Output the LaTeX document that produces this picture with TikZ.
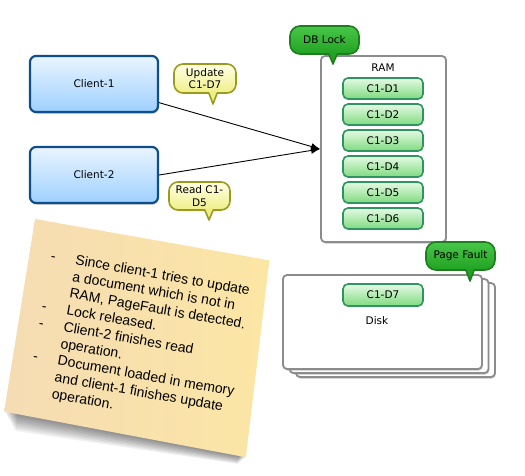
\documentclass[tikz,border=0pt]{standalone}
\usepackage{fontspec}
\setmainfont{DejaVu Sans}
\newfontfamily\notefont{Liberation Sans}
\usetikzlibrary{shadows,calc,arrows.meta}
\definecolor{clientborder}{HTML}{0E4E8A}
\definecolor{clienttop}{HTML}{EAF5FF}
\definecolor{clientbot}{HTML}{9ED0FF}
\definecolor{docborder}{HTML}{2F9462}
\definecolor{doctop}{HTML}{E6FAE4}
\definecolor{docbot}{HTML}{7FDA7F}
\definecolor{yborder}{HTML}{999A1E}
\definecolor{ytop}{HTML}{FFFFE6}
\definecolor{ybot}{HTML}{EFEF88}
\definecolor{gborder}{HTML}{1E7D1E}
\definecolor{gtop}{HTML}{48C648}
\definecolor{gbot}{HTML}{22A222}
\definecolor{boxgrey}{HTML}{8C8C8C}
\definecolor{notel}{HTML}{F5DCB4}
\definecolor{noter}{HTML}{FCE6A4}
\newcommand\dgfont{\fontsize{10.5}{12.5}\selectfont}
\newcommand\calltail[4]{%
  \fill[#3] ($(#2 |- #1.south)+(-4,-2.5)$) -- (#2) -- ($(#2 |- #1.south)+(4,-2.5)$) -- cycle;
  \draw[#4, line width=1.6pt, line join=round] ($(#2 |- #1.south)+(-4,-0.4)$) -- (#2) -- ($(#2 |- #1.south)+(4,-0.4)$);
}
\begin{document}
\begin{tikzpicture}[x=1pt,y=-1pt,
  client/.style={draw=clientborder, line width=2.2pt, rounded corners=6pt,
    top color=clienttop, bottom color=clientbot, minimum width=128pt,
    minimum height=56pt, inner sep=0pt, font=\dgfont,
    drop shadow={shadow xshift=0.8pt, shadow yshift=-1.8pt, opacity=0.35}},
  docnode/.style={draw=docborder, line width=1.6pt, rounded corners=5pt,
    top color=doctop, bottom color=docbot, minimum width=80pt,
    minimum height=21pt, inner sep=0pt, font=\dgfont},
  ybubble/.style={draw=yborder, line width=1.6pt, rounded corners=9pt,
    top color=ytop, bottom color=ybot, inner sep=0pt, align=center,
    font=\dgfont},
  gbubble/.style={draw=gborder, line width=1.6pt, rounded corners=10pt,
    top color=gtop, bottom color=gbot, inner sep=0pt, align=center,
    font=\dgfont, minimum width=69pt, minimum height=28pt},
  container/.style={draw=boxgrey, line width=1.8pt, rounded corners=4pt,
    fill=white, inner sep=0pt,
    drop shadow={shadow xshift=0.8pt, shadow yshift=-1.8pt, opacity=0.3}},
  conn/.style={line width=0.9pt, -{Latex[length=9pt,width=7pt]}},
  lbl/.style={font=\dgfont, inner sep=0pt}
]
\useasboundingbox (0,0) rectangle (525,475);

% sticky note
\begin{scope}[shift={(35,219)}, rotate=-10, transform shape]
  \foreach \s in {1,...,9}{
    \fill[black, opacity=0.06] (3+\s,120) -- (244,120) -- (249-0.8*\s,198+0.9*\s) -- (3+1.6*\s,195+1.9*\s) -- cycle;
  }
  \path[left color=notel, right color=noter] (0,0) -- (238,0) -- (249,198) -- (3,195) -- cycle;
  \node[anchor=north west, inner sep=0pt, align=left,
        font=\notefont\fontsize{14}{17}\selectfont] (notetext) at (22,27.5)
   {\makebox[25pt][l]{-}Since client-1 tries to update\\
    \hspace*{25pt}a document which is not in\\
    \hspace*{25pt}RAM, PageFault is detected.\\
    \makebox[25pt][l]{-}Lock released.\\
    \makebox[25pt][l]{-}Client-2 finishes read\\
    \hspace*{25pt}operation.\\
    \makebox[25pt][l]{-}Document loaded in memory\\
    \hspace*{25pt}and client-1 finishes update\\
    \hspace*{25pt}operation.};
\end{scope}

% clients
\node[client] (c1) at (94,84) {Client-1};
\node[client] (c2) at (94,175) {Client-2};

% RAM
\node[container, minimum width=125pt, minimum height=186pt] (ram) at (383.5,149) {};
\node[lbl] (ramlbl) at (383,68) {RAM};
\node[docnode] (d1) at (383,88.5) {C1-D1};
\node[docnode] (d2) at (383,114.5) {C1-D2};
\node[docnode] (d3) at (383,140.5) {C1-D3};
\node[docnode] (d4) at (383,166.5) {C1-D4};
\node[docnode] (d5) at (383,192.5) {C1-D5};
\node[docnode] (d6) at (383,218.5) {C1-D6};

% Disk stack
\node[container, minimum width=199pt, minimum height=94pt] (diskb2) at (395.5,330) {};
\node[container, minimum width=199pt, minimum height=94pt] (diskb1) at (389,326) {};
\node[container, minimum width=199pt, minimum height=94pt] (disk) at (382.5,322) {};
\node[docnode, minimum height=22pt] (d7) at (383,295) {C1-D7};
\node[lbl] (disklbl) at (377,321) {Disk};

% connectors
\draw[conn] (c1) -- (ram.west);
\draw[conn] (c2.east) -- (ram.west);

% bubbles
\node[ybubble, minimum width=62pt, minimum height=29pt] (upd) at (205,78.5) {Update\\C1-D7};
\coordinate (updtip) at (213,104);
\calltail{upd}{updtip}{ybot}{yborder}

\node[ybubble, minimum width=61pt, minimum height=28pt] (rd) at (199.5,196) {Read C1-\\D5};
\coordinate (rdtip) at (209,220);
\calltail{rd}{rdtip}{ybot}{yborder}

\node[gbubble] (lock) at (324.5,40) {DB Lock};
\coordinate (locktip) at (333,64);
\calltail{lock}{locktip}{gbot}{gborder}

\node[gbubble] (pf) at (460.5,256) {Page Fault};
\coordinate (pftip) at (470,281);
\calltail{pf}{pftip}{gbot}{gborder}
\end{tikzpicture}
\end{document}
